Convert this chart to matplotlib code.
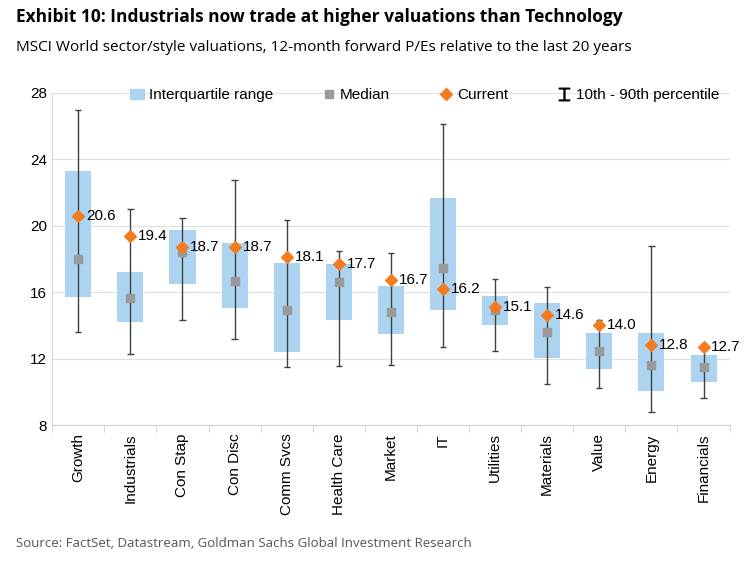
import matplotlib
matplotlib.use("Agg")
import matplotlib.pyplot as plt
import numpy as np
from matplotlib.lines import Line2D
from matplotlib.patches import Patch

categories = ["Growth", "Industrials", "Con Stap", "Con Disc", "Comm Svcs", "Health Care",
              "Market", "IT", "Utilities", "Materials", "Value", "Energy", "Financials"]
p10 = [13.6, 12.25, 14.35, 13.15, 11.47, 11.53, 11.59, 12.67, 12.43, 10.5, 10.22, 8.76, 9.6]
p25 = [15.72, 14.21, 16.5, 15.05, 12.41, 14.33, 13.49, 14.93, 14.01, 12.05, 11.39, 10.06, 10.6]
median = [18.02, 15.62, 18.44, 16.64, 14.95, 16.58, 14.83, 17.48, 14.91, 13.57, 12.43, 11.59, 11.47]
p75 = [23.27, 17.2, 19.72, 18.94, 17.74, 17.68, 16.36, 21.65, 15.76, 15.33, 13.53, 13.53, 12.21]
p90 = [26.98, 21.03, 20.49, 22.77, 20.36, 18.5, 18.38, 26.14, 16.76, 16.28, 14.31, 18.8, 12.7]
current = [20.6, 19.4, 18.7, 18.7, 18.1, 17.7, 16.7, 16.2, 15.1, 14.6, 14.0, 12.8, 12.7]

blue = "#acd3ef"
orange = "#f47b20"
grey = "#9a9a9a"

fig = plt.figure(figsize=(7.46, 5.69), dpi=100)
ax = fig.add_axes([0.07, 0.253, 0.908, 0.584])
x = np.arange(len(categories))
lo = np.array(p25)
hi = np.array(p75)
ax.bar(x, hi - lo, bottom=lo, width=0.5, color=blue, zorder=2)
ax.vlines(x, p10, p90, color="#404040", lw=1, zorder=3)
ax.hlines(p10, x - 0.06, x + 0.06, color="#404040", lw=1, zorder=3)
ax.hlines(p90, x - 0.06, x + 0.06, color="#404040", lw=1, zorder=3)
ax.scatter(x, median, marker="s", s=32, color=grey, zorder=4)
ax.scatter(x, current, marker="D", s=36, color=orange, zorder=5)
for xi, c in zip(x, current):
    ax.text(xi + 0.15, c, f"{c:.1f}", va="center", ha="left", fontsize=11,
            family="Liberation Sans", zorder=6)

ax.set_ylim(8, 28)
ax.set_yticks(range(8, 29, 4))
ax.set_xlim(-0.5, len(categories) - 0.5)
ax.set_xticks(x)
ax.set_xticklabels(categories, rotation=90, fontsize=11, family="Liberation Sans")
ax.tick_params(axis="y", labelsize=11, length=0)
for lab in ax.get_yticklabels():
    lab.set_family("Liberation Sans")
ax.set_xticks(np.arange(-0.5, len(categories), 1), minor=True)
ax.tick_params(axis="x", which="major", length=0, pad=6)
ax.tick_params(axis="x", which="minor", length=5, color="#d0d0d0")
ax.grid(axis="y", color="#e0e0e0", lw=0.8, zorder=0)
for s in ["top", "right"]:
    ax.spines[s].set_visible(False)
ax.spines["left"].set_color("#d9d9d9")
ax.spines["bottom"].set_color("#d0d0d0")

handles = [Patch(color=blue, label="Interquartile range"),
           Line2D([], [], marker="s", color=grey, ls="", markersize=6, label="Median"),
           Line2D([], [], marker="D", color=orange, ls="", markersize=6, label="Current"),
           Line2D([], [], marker="$\u2336$", color="black", ls="", markersize=9,
                  label="10th - 90th percentile")]
ax.legend(handles=handles, ncol=4, loc="upper center", bbox_to_anchor=(0.55, 1.055),
          frameon=False, prop={"family": "Liberation Sans", "size": 11},
          handlelength=0.9, handletextpad=0.3, columnspacing=3.2)

fig.text(0.022, 0.962, "Exhibit 10: Industrials now trade at higher valuations than Technology",
         fontsize=12.5, fontweight="bold", family="Open Sans")
fig.text(0.022, 0.91, "MSCI World sector/style valuations, 12-month forward P/Es relative to the last 20 years",
         fontsize=11, family="Open Sans")
fig.text(0.022, 0.038, "Source: FactSet, Datastream, Goldman Sachs Global Investment Research",
         fontsize=9.5, family="Open Sans", color="#555555")
fig.savefig("out.png", dpi=100)
